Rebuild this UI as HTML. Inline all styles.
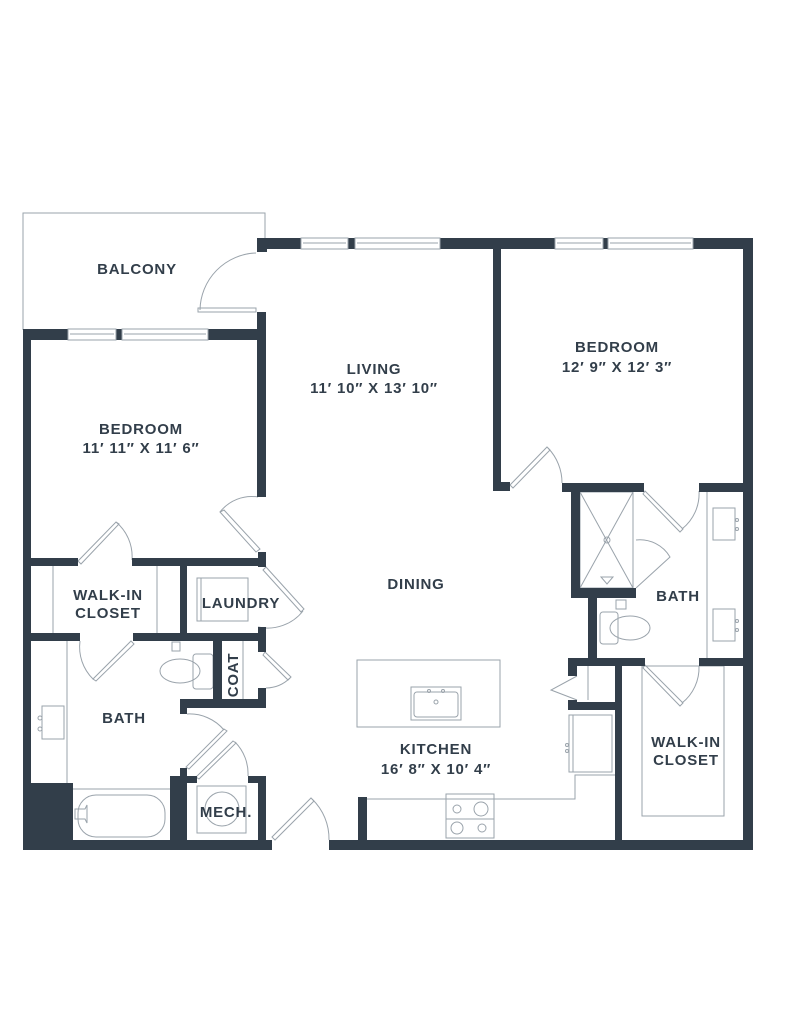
<!DOCTYPE html>
<html><head><style>
html,body{margin:0;padding:0;background:#fff}
svg{display:block}
text{font-family:"Liberation Sans",sans-serif;font-weight:bold;fill:#323e4a;text-anchor:middle;font-size:15px;letter-spacing:0.8px}
</style></head><body>
<svg width="791" height="1024" viewBox="0 0 791 1024">
<g fill="none" stroke="#9aa3ab" stroke-width="1">
<polyline points="23,330 23,213 265,213 265,238"/>
<rect x="198" y="308" width="58" height="4"/>
<path d="M200,310 A58,58 0 0 1 256,253"/>
<path d="M258,497 A40,40 0 0 0 220,512"/><polygon points="220,512 224,510 260,549 256,552"/>
<polygon points="78,561 116,522 119,524 81,564"/><path d="M116,522 A45,45 0 0 1 132,560"/>
<line x1="53" y1="566" x2="53" y2="633"/><line x1="157" y1="566" x2="157" y2="633"/>
<polygon points="93,679 131,641 134,644 96,681"/><path d="M80,641 A45,45 0 0 0 93,679"/>
<rect x="197" y="578" width="51" height="43"/><line x1="201" y1="578" x2="201" y2="621"/>
<polygon points="266,567 304,609 301,612 263,570"/><path d="M303,611 A45,45 0 0 1 258,627"/>
<line x1="243" y1="641" x2="243" y2="699"/>
<polygon points="265,652 291,677 288,680 263,655"/><path d="M290,678 A35,35 0 0 1 266,688"/>
<rect x="193" y="654" width="20" height="35" rx="3"/><ellipse cx="180" cy="671" rx="20" ry="12"/>
<rect x="172" y="642" width="8" height="9"/>
<line x1="67" y1="641" x2="67" y2="783"/>
<rect x="42" y="706" width="22" height="33"/>
<circle cx="40" cy="718" r="2"/><circle cx="40" cy="729" r="2"/>
<line x1="73" y1="789" x2="170" y2="789"/>
<rect x="78" y="795" width="87" height="42" rx="18"/>
<polygon points="75,809 85,809 87,805 87,823 85,819 75,819"/>
<path d="M187,714 A45,45 0 0 1 224,730"/><polygon points="224,729 227,731 189,769 186,767"/>
<polygon points="233,741 236,743 199,779 196,777"/><path d="M235,742 A45,45 0 0 1 248,776"/>
<rect x="197" y="786" width="49" height="47"/><circle cx="222" cy="809" r="17"/>
<polygon points="272,837 311,798 314,801 275,840"/><path d="M312,799 A55,55 0 0 1 329,840"/>
<rect x="357" y="660" width="143" height="67"/>
<rect x="411" y="687" width="50" height="33"/><rect x="414" y="692" width="44" height="25" rx="3"/>
<circle cx="436" cy="702" r="2"/><circle cx="429" cy="691" r="1.5"/><circle cx="443" cy="691" r="1.5"/>
<polyline points="367,799 575,799 575,775 615,775"/>
<rect x="446" y="794" width="48" height="44"/><line x1="446" y1="819" x2="494" y2="819"/>
<circle cx="457" cy="809" r="4"/><circle cx="481" cy="809" r="7"/><circle cx="457" cy="828" r="6"/><circle cx="482" cy="828" r="4"/>
<rect x="569" y="715" width="43" height="57"/><line x1="573" y1="715" x2="573" y2="772"/>
<circle cx="567" cy="745" r="1.5"/><circle cx="567" cy="751" r="1.5"/>
<polyline points="577,676 551,690 577,700"/><line x1="588" y1="666" x2="588" y2="700"/>
<polygon points="510,485 547,447 550,450 513,488"/><path d="M548,448 A50,50 0 0 1 562,483"/>
<rect x="580" y="492" width="53" height="96"/><line x1="580" y1="492" x2="633" y2="588"/><line x1="633" y1="492" x2="580" y2="588"/>
<circle cx="607" cy="540" r="3"/><polygon points="601,577 613,577 607,584"/>
<path d="M636,540 A35,35 0 0 1 670,557 L636,588"/>
<polygon points="645,491 683,529 680,532 643,494"/><path d="M682,529 A45,45 0 0 0 699,491"/>
<line x1="707" y1="492" x2="707" y2="658"/>
<rect x="713" y="508" width="22" height="32"/><rect x="713" y="609" width="22" height="32"/>
<circle cx="737" cy="520" r="1.5"/><circle cx="737" cy="529" r="1.5"/><circle cx="737" cy="621" r="1.5"/><circle cx="737" cy="630" r="1.5"/>
<rect x="600" y="612" width="18" height="32" rx="3"/><ellipse cx="630" cy="628" rx="20" ry="12"/>
<rect x="616" y="600" width="10" height="9"/>
<polygon points="645,665 683,703 680,706 643,668"/><path d="M682,703 A45,45 0 0 0 699,666"/>
<rect x="642" y="666" width="82" height="150"/>
</g>
<g fill="#323e4a">
<rect x="257" y="238" width="496" height="11"/>
<rect x="257" y="238" width="10" height="14"/>
<rect x="743" y="238" width="10" height="612"/>
<rect x="493" y="249" width="8" height="242"/><rect x="493" y="482" width="17" height="9"/>
<rect x="257" y="312" width="9" height="185"/>
<rect x="23" y="329" width="243" height="11"/>
<rect x="23" y="329" width="8" height="521"/>
<rect x="258" y="552" width="8" height="15"/>
<rect x="31" y="558" width="47" height="8"/><rect x="132" y="558" width="134" height="8"/>
<rect x="180" y="566" width="7" height="75"/>
<rect x="31" y="633" width="49" height="8"/><rect x="133" y="633" width="133" height="8"/>
<rect x="258" y="627" width="8" height="25"/>
<rect x="213" y="641" width="9" height="67"/>
<rect x="258" y="688" width="8" height="20"/>
<rect x="180" y="699" width="86" height="9"/><rect x="180" y="699" width="7" height="15"/>
<rect x="31" y="783" width="42" height="67"/>
<rect x="180" y="768" width="7" height="82"/><rect x="170" y="776" width="17" height="74"/>
<rect x="187" y="776" width="10" height="7"/><rect x="248" y="776" width="18" height="7"/>
<rect x="258" y="776" width="8" height="74"/>
<rect x="23" y="840" width="249" height="10"/>
<rect x="329" y="840" width="424" height="10"/>
<rect x="358" y="797" width="9" height="43"/>
<rect x="562" y="483" width="82" height="9"/><rect x="699" y="483" width="54" height="9"/>
<rect x="571" y="483" width="9" height="115"/>
<rect x="571" y="588" width="65" height="10"/>
<rect x="588" y="598" width="9" height="68"/>
<rect x="568" y="658" width="77" height="8"/><rect x="699" y="658" width="54" height="8"/>
<rect x="568" y="658" width="9" height="18"/><rect x="568" y="700" width="9" height="10"/>
<rect x="568" y="702" width="54" height="8"/>
<rect x="615" y="666" width="7" height="184"/>
</g>
<g fill="#fff" stroke="#9aa3ab" stroke-width="1">
<rect x="301" y="238" width="47" height="11"/><rect x="355" y="238" width="85" height="11"/>
<rect x="555" y="238" width="48" height="11"/><rect x="608" y="238" width="85" height="11"/>
<rect x="68" y="329" width="48" height="11"/><rect x="122" y="329" width="86" height="11"/>
<line x1="303" y1="243" x2="346" y2="243"/><line x1="357" y1="243" x2="438" y2="243"/>
<line x1="557" y1="243" x2="601" y2="243"/><line x1="610" y1="243" x2="691" y2="243"/>
<line x1="70" y1="334" x2="114" y2="334"/><line x1="124" y1="334" x2="206" y2="334"/>
</g>
<text x="137" y="274">BALCONY</text>
<text x="374" y="374">LIVING</text><text x="374" y="393">11′ 10″ X 13′ 10″</text>
<text x="141" y="434">BEDROOM</text><text x="141" y="453">11′ 11″ X 11′ 6″</text>
<text x="617" y="352">BEDROOM</text><text x="617" y="372">12′ 9″ X 12′ 3″</text>
<text x="108" y="600" font-size="14">WALK-IN</text><text x="108" y="618" font-size="14">CLOSET</text>
<text x="241" y="608" font-size="14">LAUNDRY</text>
<text x="416" y="589">DINING</text>
<text x="0" y="0" font-size="14" transform="translate(238,675) rotate(-90)">COAT</text>
<text x="124" y="723">BATH</text>
<text x="226" y="817" font-size="14">MECH.</text>
<text x="436" y="754">KITCHEN</text><text x="436" y="774">16′ 8″ X 10′ 4″</text>
<text x="678" y="601">BATH</text>
<text x="686" y="747" font-size="14">WALK-IN</text><text x="686" y="765" font-size="14">CLOSET</text>
</svg>
</body></html>
